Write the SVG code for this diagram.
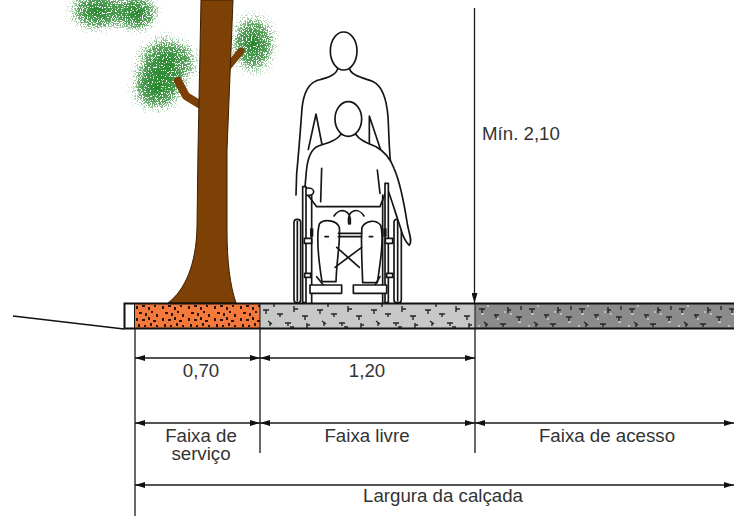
<svg xmlns="http://www.w3.org/2000/svg" width="734" height="516" viewBox="0 0 734 516">
  <style>
    .lbl { font-family: "Liberation Sans", Arial, sans-serif; font-size: 18.7px; fill: #333; }
    .dim { stroke: #1a1a1a; stroke-width: 1.3; fill: none; }
    .ref { stroke: #1a1a1a; stroke-width: 1.3; fill: none; }
    .fig { stroke: #151515; stroke-width: 5; stroke-linejoin: round; stroke-linecap: round; }
    .fw { fill: #fff; }
    .fn { fill: none; }
    .mark { stroke: #262626; stroke-width: 1.4; fill: none; }
  </style>
  <defs>
    <marker id="ah" viewBox="0 0 10 6" refX="10" refY="3" markerWidth="10" markerHeight="6" markerUnits="userSpaceOnUse" orient="auto-start-reverse">
      <path d="M0 0 L10 3 L0 6 Z" fill="#111"/>
    </marker>

    <!-- crown density: opaque core fading to nothing at the rim -->
    <radialGradient id="crownGrad">
      <stop offset="0" stop-color="#000" stop-opacity="1"/>
      <stop offset="0.5" stop-color="#000" stop-opacity="0.75"/>
      <stop offset="1" stop-color="#000" stop-opacity="0"/>
    </radialGradient>

    <!-- stippled foliage: noise plus crown density, thresholded into dots -->
    <filter id="leaves" x="-5%" y="-5%" width="110%" height="110%" color-interpolation-filters="sRGB">
      <feTurbulence type="fractalNoise" baseFrequency="0.8" numOctaves="2" seed="4" result="noise"/>
      <feColorMatrix in="noise" type="matrix" values="0 0 0 0 0  0 0 0 0 0  0 0 0 0 0  1 0 0 0 0" result="na"/>
      <feComposite in="na" in2="SourceGraphic" operator="arithmetic" k1="0" k2="1" k3="0.42" k4="0" result="sum"/>
      <feComponentTransfer in="sum" result="mask">
        <feFuncA type="linear" slope="30" intercept="-22"/>
      </feComponentTransfer>
      <feFlood flood-color="#25862b"/>
      <feComposite in2="mask" operator="in" result="dots"/>
      <feComposite in="dots" in2="SourceAlpha" operator="in"/>
    </filter>

    <!-- service strip: orange paving with dark grains -->
    <pattern id="pavOrange" patternUnits="userSpaceOnUse" x="134" y="303" width="26" height="26">
      <rect width="26" height="26" fill="#f37a3b"/>
      <g fill="#2a140a">
        <rect x="2" y="3" width="2" height="3"/><rect x="8" y="2" width="3" height="2"/>
        <rect x="14" y="4" width="2" height="3"/><rect x="20" y="2" width="2" height="2"/>
        <rect x="5" y="9" width="3" height="2"/><rect x="11" y="10" width="2" height="3"/>
        <rect x="17" y="8" width="2" height="2"/><rect x="22" y="11" width="2" height="3"/>
        <rect x="2" y="15" width="2" height="3"/><rect x="8" y="16" width="3" height="2"/>
        <rect x="14" y="14" width="2" height="3"/><rect x="19" y="17" width="3" height="2"/>
        <rect x="4" y="21" width="2" height="3"/><rect x="10" y="22" width="2" height="2"/>
        <rect x="16" y="20" width="2" height="3"/><rect x="22" y="22" width="2" height="2"/>
      </g>
    </pattern>
    <!-- free strip: light grey concrete -->
    <pattern id="pavLight" patternUnits="userSpaceOnUse" x="260" y="303" width="54" height="26">
      <rect width="54" height="26" fill="#c8c8c8"/>
      <path class="mark" d="M3 7 h6 M6 7 v4 M17 11 h6 M20 11 v3 M34 3 v6 M34 6 h4 M42 13 h6 M45 13 v4 M8 18 l4 3 M10 19 v4 M25 20 h6 M28 20 v3 M47 20 v5 M47 22 h3 M14 1 v3 M30 24 h4"/>
    </pattern>
    <!-- access strip: dark grey concrete -->
    <pattern id="pavDark" patternUnits="userSpaceOnUse" x="475" y="303" width="50" height="26">
      <rect width="50" height="26" fill="#8b8b8b"/>
      <path class="mark" d="M4 6 h6 M7 6 v4 M19 12 h5 M21 12 v3 M33 4 v6 M33 7 h3 M41 14 h6 M44 14 v4 M9 19 l4 3 M11 20 v4 M25 21 h6 M28 21 v3 M46 3 v4"/>
      <path d="M6 11 h3 M22 16 h2 M35 11 h2 M43 19 h3 M12 3 h2 M29 9 h2 M3 23 h2" stroke="#f2f2f2" stroke-width="1.2"/>
    </pattern>
  </defs>

  <!-- tree -->
  <g id="tree">
    <g id="crowns" filter="url(#leaves)">
      <ellipse cx="98" cy="11" rx="38" ry="26" fill="url(#crownGrad)"/>
      <ellipse cx="137" cy="13" rx="28" ry="25" fill="url(#crownGrad)"/>
      <ellipse cx="167" cy="62" rx="40" ry="34" fill="url(#crownGrad)"/>
      <ellipse cx="157" cy="88" rx="34" ry="30" fill="url(#crownGrad)"/>
      <ellipse cx="253" cy="44" rx="30" ry="38" fill="url(#crownGrad)"/>
    </g>
    <path d="M199 104 L186 96 L178 81" stroke="#7b3f06" stroke-width="8" stroke-linecap="round" stroke-linejoin="round" fill="none"/>
    <path d="M227 68 L241 51" stroke="#7b3f06" stroke-width="7" stroke-linecap="round" fill="none"/>
    <path d="M201 0 L198 150 L197 228 C196 265 185 290 168 303 L236 303 C230 285 227 262 227 230 L227 150 L233 0 Z" fill="#7d4105" stroke="#3b1e02" stroke-width="1"/>
  </g>

  <!-- person pushing a wheelchair user -->
  <g id="wheelchair-users" transform="translate(270 20) scale(0.33333)">
    <!-- standing helper -->
    <path class="fw" d="M203 146 C198 168 165 175 140 182 C112 192 100 225 96 265 C92 320 86 400 80 460 L78 525 L360 525 L362 445 C357 400 356 340 354 290 C350 240 340 200 310 185 C285 175 245 168 239 147 Z"/>
    <path class="fig fn" d="M203 146 C198 168 165 175 140 182 C112 192 100 225 96 265 C92 320 86 400 80 460 L78 525"/>
    <path class="fig fn" d="M239 147 C245 168 285 175 310 185 C340 200 350 240 354 290 C357 340 357 400 364 448"/>
    <ellipse class="fig fw" cx="221" cy="93" rx="40" ry="57"/>
    <path class="fig fn" d="M115 388 L138 282 L158 384 M298 378 L298 288 L332 390"/>

    <!-- wheels behind the seated body -->
    <rect class="fig fw" x="72" y="598" width="20" height="250" rx="9"/>
    <path class="fig fn" d="M82 604 V842"/>
    <rect class="fig fw" x="372" y="598" width="22" height="250" rx="9"/>
    <path class="fig fn" d="M383 604 V842"/>

    <!-- seated person -->
    <path class="fig fw" d="M212 343 C200 362 170 370 145 378 C120 388 112 420 109 455 L104 512 L140 560 L330 560 L352 505 C365 540 380 590 392 625 C398 648 404 664 418 676 C428 664 417 640 412 612 C404 560 392 490 372 445 C360 412 340 392 318 380 C295 370 268 362 258 343 Z"/>
    <ellipse class="fig fw" cx="235" cy="297" rx="40" ry="52"/>
    <path class="fig fn" d="M155 445 L152 545 M322 450 L330 520"/>
    <ellipse class="fig fw" cx="115" cy="515" rx="16" ry="11"/>

    <!-- chair frame and push handles -->
    <rect class="fig fw" x="98" y="500" width="10" height="348"/>
    <path class="fig fn" d="M125 525 V848"/>
    <rect class="fig fw" x="345" y="490" width="10" height="358"/>
    <path class="fig fn" d="M338 525 V848"/>

    <!-- thighs and legs -->
    <path class="fig fw" d="M148 612 C138 650 144 710 156 785 L198 785 C200 720 212 660 208 622 C200 600 160 596 148 612 Z"/>
    <path class="fig fw" d="M276 622 C272 662 276 722 278 788 L322 788 C332 722 342 652 332 616 C318 598 288 600 276 622 Z"/>
    <path class="fig fn" d="M192 588 C208 562 245 566 241 612 M282 588 C266 562 230 566 236 612"/>
    <path class="fig fn" d="M165 650 h10 M298 650 h10"/>

    <!-- seat bar, cross brace, brakes, footrests -->
    <path class="fig fn" d="M205 640 H275 M205 650 H275 M195 742 L275 682 M200 682 L268 742 M140 770 L160 795 M330 770 L315 795"/>
    <rect class="fig fw" x="103" y="655" width="22" height="15"/>
    <rect class="fig fw" x="104" y="760" width="18" height="12"/>
    <rect class="fig fw" x="346" y="655" width="22" height="15"/>
    <rect class="fig fw" x="350" y="760" width="18" height="12"/>
    <rect x="120" y="625" width="10" height="25" fill="#151515"/>
    <rect x="340" y="625" width="10" height="25" fill="#151515"/>
    <rect class="fig fw" x="120" y="795" width="95" height="25"/>
    <rect class="fig fw" x="250" y="795" width="100" height="25"/>
  </g>

  <!-- sidewalk section -->
  <g id="sidewalk">
    <rect x="124.5" y="303.5" width="10" height="25" fill="#fff"/>
    <rect x="134.5" y="303.5" width="125.5" height="25" fill="url(#pavOrange)"/>
    <rect x="260" y="303.5" width="215" height="25" fill="url(#pavLight)"/>
    <rect x="475" y="303.5" width="262" height="25" fill="url(#pavDark)"/>
    <path d="M134.5 303 V329 M260 303 V329 M475 303 V329" stroke="#111" stroke-width="1"/>
    <rect x="124.5" y="303.5" width="620" height="25" fill="none" stroke="#111" stroke-width="2"/>
    <path d="M13 316 L124 329" stroke="#111" stroke-width="1.3" fill="none"/>
  </g>

  <!-- dimension lines -->
  <g id="connectors">
    <path class="ref" d="M135 329 V516 M260 329 V453 M475 329 V453"/>
    <path class="ref" d="M474.5 8 V303" marker-end="url(#ah)"/>
    <path class="dim" d="M135 358 H260" marker-start="url(#ah)" marker-end="url(#ah)"/>
    <path class="dim" d="M260 358 H475" marker-start="url(#ah)" marker-end="url(#ah)"/>
    <path class="dim" d="M135 423 H260" marker-start="url(#ah)" marker-end="url(#ah)"/>
    <path class="dim" d="M260 423 H475" marker-start="url(#ah)" marker-end="url(#ah)"/>
    <path class="dim" d="M475 423 H734" marker-start="url(#ah)" marker-end="url(#ah)"/>
    <path class="dim" d="M135 485 H734" marker-start="url(#ah)" marker-end="url(#ah)"/>
  </g>

  <g id="labels">
    <text class="lbl" x="482" y="140">Mín. 2,10</text>
    <text class="lbl" x="201" y="377" text-anchor="middle">0,70</text>
    <text class="lbl" x="367" y="377" text-anchor="middle">1,20</text>
    <text class="lbl" x="201" y="441.5" text-anchor="middle">Faixa de</text>
    <text class="lbl" x="201" y="460" text-anchor="middle">serviço</text>
    <text class="lbl" x="367" y="441.5" text-anchor="middle">Faixa livre</text>
    <text class="lbl" x="607" y="441.5" text-anchor="middle">Faixa de acesso</text>
    <text class="lbl" x="443" y="501.5" text-anchor="middle">Largura da calçada</text>
  </g>
</svg>
